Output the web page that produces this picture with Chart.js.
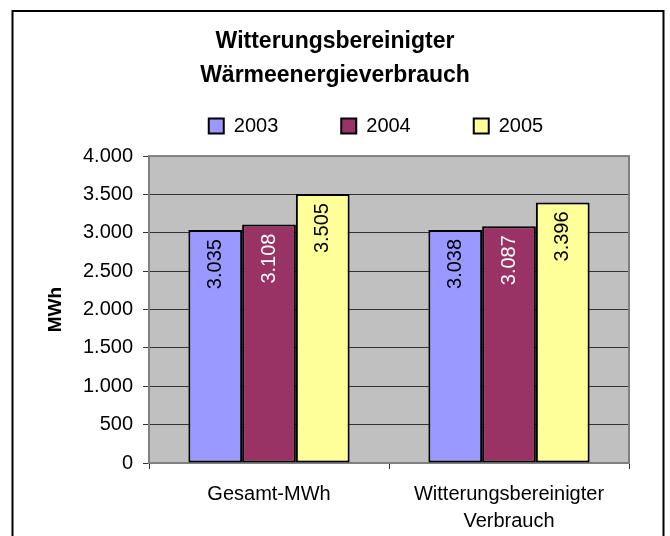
<!DOCTYPE html>
<html>
<head>
<meta charset="utf-8">
<script src="https://cdn.jsdelivr.net/npm/chart.js@4/dist/chart.umd.min.js"></script>
<style>
    html, body { margin: 0; padding: 0; background: #fff; }
    canvas { display: block; }
</style>
</head>
<body>
<canvas id="chart" width="670" height="536"></canvas>
<script>
const categories = ['Gesamt-MWh', ['Witterungsbereinigter', 'Verbrauch']];
const years = ['2003', '2004', '2005'];
const values2003 = [3035, 3038];
const values2004 = [3108, 3087];
const values2005 = [3505, 3396];
const yTicks = [0, 500, 1000, 1500, 2000, 2500, 3000, 3500, 4000];

const barColors = ['#9999FF', '#993366', '#FFFF99'];
const labelColors = ['#000000', '#FFFFFF', '#000000'];
const FONT = "'Liberation Sans', Arial, sans-serif";

// 3035 -> "3.035"
const formatDe = (v) => Math.round(v).toString().replace(/\B(?=(\d{3})+(?!\d))/g, '.');

const plotBackground = {
    id: 'plotBackground',
    afterLayout(chart) {
        // legend sits a bit left of centre, like the original
        chart.legend.left -= 13;
        chart.legend.right -= 13;
    },
    beforeDraw(chart) {
        const { ctx, chartArea: a } = chart;
        ctx.save();
        ctx.fillStyle = '#C0C0C0';
        ctx.fillRect(a.left, a.top, a.right - a.left, a.bottom - a.top);
        ctx.restore();
    },
    beforeDatasetsDraw(chart) {
        const { ctx, chartArea: a } = chart;
        ctx.save();
        ctx.strokeStyle = '#808080';
        ctx.lineWidth = 2;
        ctx.strokeRect(a.left, a.top, a.right - a.left, a.bottom - a.top);
        ctx.restore();
    },
    afterDraw(chart) {
        const { ctx } = chart;
        ctx.save();
        ctx.strokeStyle = '#000';
        ctx.lineWidth = 2;
        ctx.strokeRect(12.5, 11, 651, 540);
        ctx.restore();
    },
};

const valueLabels = {
    id: 'valueLabels',
    afterDatasetsDraw(chart) {
        const { ctx } = chart;
        ctx.save();
        ctx.font = `20px ${FONT}`;
        ctx.textAlign = 'right';
        ctx.textBaseline = 'middle';
        chart.data.datasets.forEach((ds, i) => {
            chart.getDatasetMeta(i).data.forEach((bar, j) => {
                ctx.save();
                ctx.translate(bar.x, bar.y + 9);
                ctx.rotate(-Math.PI / 2);
                ctx.fillStyle = labelColors[i];
                ctx.fillText(formatDe(ds.data[j]), 0, 0);
                ctx.restore();
            });
        });
        ctx.restore();
    },
};

new Chart(document.getElementById('chart'), {
    type: 'bar',
    data: {
        labels: categories,
        datasets: [values2003, values2004, values2005].map((data, i) => ({
            label: years[i],
            data,
            backgroundColor: barColors[i],
            borderColor: '#000',
            borderWidth: 2,
            borderSkipped: false,
            categoryPercentage: 0.672,
            barPercentage: 1.0,
        })),
    },
    options: {
        responsive: false,
        animation: false,
        devicePixelRatio: 1,
        layout: { padding: { left: 41, right: 41, top: 0, bottom: 0 } },
        plugins: {
            title: {
                display: true,
                text: ['Witterungsbereinigter', 'Wärmeenergieverbrauch'],
                color: '#000',
                font: { family: FONT, size: 23, weight: 'bold', lineHeight: 1.48 },
                padding: { top: 25, bottom: -40 },
            },
            legend: {
                position: 'top',
                fullSize: false,
                labels: {
                    color: '#000',
                    font: { family: FONT, size: 20, lineHeight: 1 },
                    boxWidth: 15,
                    boxHeight: 15,
                    padding: 63,
                },
            },
            subtitle: {
                display: true,
                text: '',
                weight: 500,
                font: { size: 10, lineHeight: 1 },
                padding: 0,
            },
            tooltip: { enabled: false },
        },
        scales: {
            x: {
                afterFit: (scale) => { scale.height = 73; },
                grid: {
                    display: true,
                    drawOnChartArea: false,
                    offset: true,
                    tickLength: 6,
                    color: '#333',
                },
                border: { color: '#333', width: 1 },
                ticks: {
                    color: '#000',
                    padding: 12,
                    maxRotation: 0,
                    font: { family: FONT, size: 20, lineHeight: 1.35 },
                },
            },
            y: {
                min: 0,
                max: 4000,
                afterFit: (scale) => { scale.width = 108; },
                afterBuildTicks: (scale) => { scale.ticks = yTicks.map((v) => ({ value: v })); },
                grid: { color: '#333', tickLength: 6, tickColor: '#333' },
                border: { display: false },
                ticks: {
                    color: '#000',
                    padding: 10,
                    font: { family: FONT, size: 20 },
                    callback: (v) => formatDe(v),
                },
                title: {
                    display: true,
                    text: 'MWh',
                    color: '#000',
                    font: { family: FONT, size: 19, weight: 'bold', lineHeight: 1.2 },
                    padding: { top: 3, bottom: 0 },
                },
            },
        },
    },
    plugins: [plotBackground, valueLabels],
});
</script>
</body>
</html>
